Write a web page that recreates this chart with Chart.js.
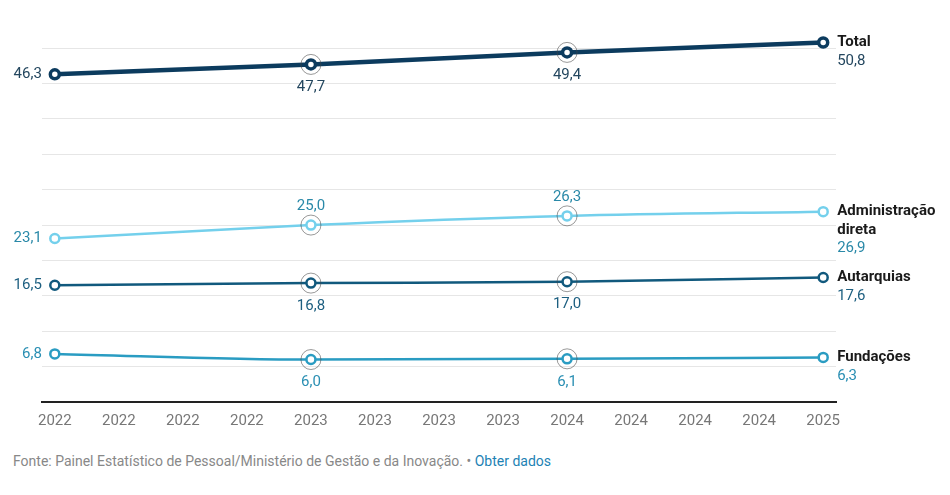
<!DOCTYPE html>
<html>
<head>
<meta charset="utf-8">
<script src="https://cdn.jsdelivr.net/npm/chart.js@4"></script>
<style>
  html, body { margin: 0; padding: 0; background: #fff; }
  body { width: 950px; height: 495px; position: relative; font-family: Roboto, "Noto Sans", sans-serif; }
  #wrap { position: absolute; left: 0; top: 0; width: 950px; height: 432px; }
  #fonte { position: absolute; left: 13px; top: 453px; font-size: 14px; color: #888; }
  #fonte a { color: #1d82b4; text-decoration: none; }
</style>
</head>
<body>
<div id="wrap"><canvas id="chartLinhas"></canvas></div>
<div id="fonte">Fonte: Painel Estatístico de Pessoal/Ministério de Gestão e da Inovação. • <a href="#">Obter dados</a></div>
<script>
// Dados (milhares de servidores, por ano)
const tickLabels = ['2022', '2022', '2022', '2022', '2023', '2023', '2023', '2023', '2024', '2024', '2024', '2024', '2025'];
const pointSlots = [0, 4, 8, 12];
const seriesNames = ['Total', 'Administração direta', 'Autarquias', 'Fundações'];
const totalValues = [46.3, 47.7, 49.4, 50.8];
const adminValues = [23.1, 25.0, 26.3, 26.9];
const autarquiasValues = [16.5, 16.8, 17.0, 17.6];
const fundacoesValues = [6.8, 6.0, 6.1, 6.3];

const fmt = v => v.toFixed(1).replace('.', ',');
const toPoints = vals => vals.map((v, i) => ({ x: pointSlots[i], y: v }));

// rótulos: valor à esquerda no início, acima/abaixo no meio, nome + valor no fim
const labelPlugin = {
  id: 'rotulos',
  afterDatasetsDraw(chart) {
    const ctx = chart.ctx;
    ctx.save();
    chart.data.datasets.forEach((ds, di) => {
      const meta = chart.getDatasetMeta(di);
      const pts = meta.data;
      const n = pts.length;
      // halo nos pontos do meio
      pts.forEach((p, i) => {
        if (i === 0 || i === n - 1) return;
        ctx.beginPath();
        ctx.arc(p.x, p.y, 10, 0, Math.PI * 2);
        ctx.strokeStyle = 'rgba(70,70,70,0.55)';
        ctx.lineWidth = 1;
        ctx.stroke();
      });
      ctx.font = '15px Roboto';
      ctx.fillStyle = ds.labelColor;
      ctx.textBaseline = 'middle';
      pts.forEach((p, i) => {
        const v = ds.data[i].y;
        if (i === 0) {
          ctx.textAlign = 'right';
          ctx.fillText(fmt(v), p.x - 13, p.y);
        } else if (i < n - 1) {
          ctx.textAlign = 'center';
          const dy = ds.middleLabel === 'above' ? -19 : 23;
          ctx.fillText(fmt(v), p.x, p.y + dy);
        }
      });
      const last = pts[n - 1];
      const lines = ds.nameLines;
      ctx.textAlign = 'left';
      ctx.font = 'bold 15px Roboto';
      ctx.fillStyle = '#1a1a1a';
      lines.forEach((t, k) => ctx.fillText(t, last.x + 14, last.y + k * 18.5));
      ctx.font = '15px Roboto';
      ctx.fillStyle = ds.labelColor;
      ctx.fillText(fmt(ds.data[n - 1].y), last.x + 14, last.y + lines.length * 18.5);
    });
    ctx.restore();
  }
};

const ctxLinhas = document.getElementById('chartLinhas').getContext('2d');
const chartLinhas = new Chart(ctxLinhas, {
  type: 'line',
  data: {
    datasets: [
      {
        label: seriesNames[0],
        data: toPoints(totalValues),
        borderColor: '#0c3b5e',
        borderWidth: 4.5,
        pointRadius: 4.5,
        pointBorderWidth: 3.5,
        pointBackgroundColor: '#fff',
        pointBorderColor: '#0c3b5e',
        labelColor: '#24475f',
        middleLabel: 'below',
        nameLines: ['Total']
      },
      {
        label: seriesNames[1],
        data: toPoints(adminValues),
        borderColor: '#74d0ec',
        borderWidth: 2.5,
        pointRadius: 4.5,
        pointBorderWidth: 2.5,
        pointBackgroundColor: '#fff',
        pointBorderColor: '#74d0ec',
        labelColor: '#2a89a8',
        middleLabel: 'above',
        nameLines: ['Administração', 'direta']
      },
      {
        label: seriesNames[2],
        data: toPoints(autarquiasValues),
        borderColor: '#11597d',
        borderWidth: 2.5,
        pointRadius: 4.5,
        pointBorderWidth: 2.5,
        pointBackgroundColor: '#fff',
        pointBorderColor: '#11597d',
        labelColor: '#1d5f80',
        middleLabel: 'below',
        nameLines: ['Autarquias']
      },
      {
        label: seriesNames[3],
        data: toPoints(fundacoesValues),
        borderColor: '#2a9cc2',
        borderWidth: 2.5,
        pointRadius: 4.5,
        pointBorderWidth: 2.5,
        pointBackgroundColor: '#fff',
        pointBorderColor: '#2a9cc2',
        labelColor: '#2a8fb3',
        middleLabel: 'below',
        nameLines: ['Fundações']
      }
    ]
  },
  options: {
    responsive: true,
    maintainAspectRatio: false,
    animation: false,
    clip: false,
    cubicInterpolationMode: 'monotone',
    layout: { padding: { left: 42, right: 114, top: 34, bottom: 0 } },
    plugins: {
      legend: { display: false },
      tooltip: { enabled: false }
    },
    scales: {
      x: {
        type: 'linear',
        min: -0.2,
        max: 12.2,
        afterBuildTicks: scale => { scale.ticks = tickLabels.map((_, i) => ({ value: i })); },
        grid: { display: false },
        border: { color: '#222', width: 2 },
        ticks: {
          color: '#777',
          font: { family: 'Roboto', size: 15 },
          padding: 2,
          maxRotation: 0,
          autoSkip: false,
          callback: v => tickLabels[v]
        }
      },
      y: {
        min: 0,
        max: 52,
        afterBuildTicks: scale => { scale.ticks = scale.ticks.filter(t => t.value % 5 === 0 && t.value > 0); },
        ticks: { stepSize: 5, display: false },
        border: { display: false },
        grid: { color: '#e6e6e6', lineWidth: 1, drawTicks: false }
      }
    }
  },
  plugins: [labelPlugin]
});
</script>
</body>
</html>
